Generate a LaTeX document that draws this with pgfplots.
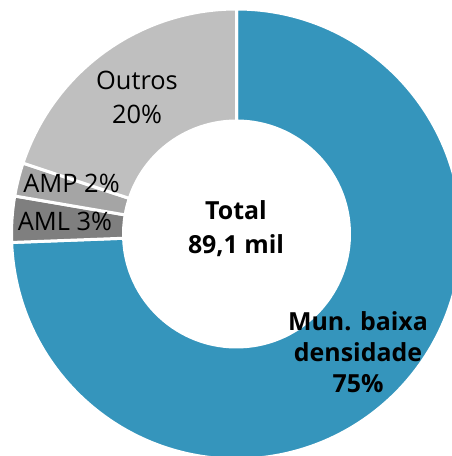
\documentclass[border=0pt]{standalone}
\usepackage{pgfplots}
\usepackage{pgfplotstable}
\pgfplotsset{compat=1.18}
\usepackage{fontspec}
\setmainfont{Open Sans}
\definecolor{cblue}{HTML}{3595BC}
\definecolor{cout}{HTML}{BFBFBF}
\definecolor{camp}{HTML}{A5A5A5}
\definecolor{caml}{HTML}{7F7F7F}
\pgfplotstableread{
label pct
Mun 74.4
AML 3.3
AMP 2.4
Outros 19.9
}\piedata
\pgfplotstablegetelem{0}{pct}\of\piedata \let\pA\pgfplotsretval
\pgfplotstablegetelem{1}{pct}\of\piedata \let\pB\pgfplotsretval
\pgfplotstablegetelem{2}{pct}\of\piedata \let\pC\pgfplotsretval
\pgfplotstablegetelem{3}{pct}\of\piedata \let\pD\pgfplotsretval
\pgfmathsetmacro\aZ{90}
\pgfmathsetmacro\aA{90-3.6*\pA}
\pgfmathsetmacro\aB{\aA-3.6*\pB}
\pgfmathsetmacro\aC{\aB-3.6*\pC}
\pgfmathsetmacro\aD{\aC-3.6*\pD}
\def\cx{236.5}
\def\cy{222}
\def\Ro{225}
\def\Ri{113}
\newcommand\slice[3]{%
  \fill[#3, draw=white, line width=3bp, line join=miter]
    (axis cs:{\cx+\Ro*cos(#1)},{\cy+\Ro*sin(#1)})
    arc[start angle=#1, end angle=#2, radius=\Ro bp]
    -- (axis cs:{\cx+\Ri*cos(#2)},{\cy+\Ri*sin(#2)})
    arc[start angle=#2, end angle=#1, radius=\Ri bp] -- cycle;}
\begin{document}
\begin{tikzpicture}
\begin{axis}[x=1bp, y=1bp, xmin=0, xmax=452, ymin=0, ymax=456,
  scale only axis, hide axis, clip=true]
\slice{\aZ}{\aA}{cblue}
\slice{\aA}{\aB}{caml}
\slice{\aB}{\aC}{camp}
\slice{\aC}{\aD}{cout}
\node[align=center, font=\fontsize{25.5}{34}\selectfont, inner sep=0pt] at (axis cs:137,{456-97}) {Outros\\20\%};
\node[font=\fontsize{25.5}{34}\selectfont, inner sep=0pt] at (axis cs:71.5,{456-183}) {AMP 2\%};
\node[font=\fontsize{25.5}{34}\selectfont, inner sep=0pt] at (axis cs:65,{456-221}) {AML 3\%};
\node[align=center, font=\fontsize{25}{34}\bfseries\selectfont, inner sep=0pt] at (axis cs:236,{456-229}) {Total\\89,1 mil};
\node[align=center, font=\fontsize{25}{31}\bfseries\selectfont, inner sep=0pt] at (axis cs:358,{456-352}) {Mun. baixa\\densidade\\75\%};
\end{axis}
\pgfresetboundingbox
\path (current axis.south west) rectangle (current axis.north east);
\end{tikzpicture}
\end{document}
